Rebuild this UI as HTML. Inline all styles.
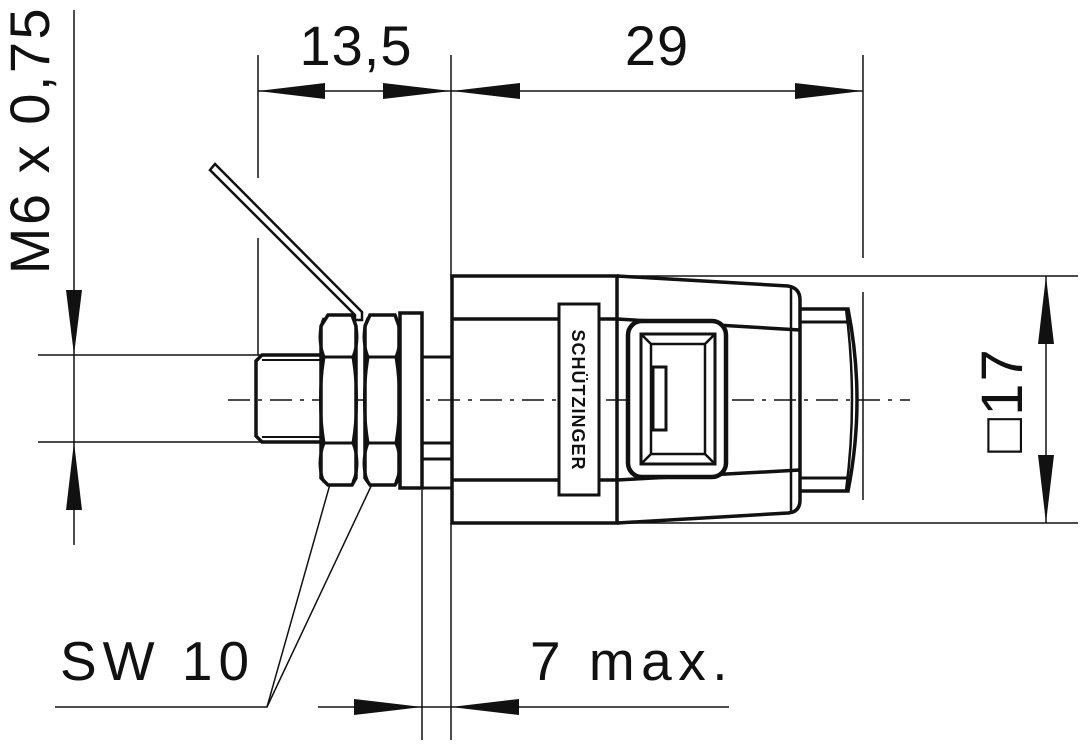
<!DOCTYPE html>
<html><head><style>
html,body{margin:0;padding:0;background:#fff;}
svg{display:block;}
text{font-family:"Liberation Sans","DejaVu Sans",sans-serif;fill:#111;}
</style></head><body>
<svg width="1084" height="744" viewBox="0 0 1084 744" xmlns="http://www.w3.org/2000/svg">
<g stroke="#111" fill="none">
<line x1="258" y1="55" x2="258" y2="178" stroke-width="1.5"/>
<line x1="258" y1="238" x2="258" y2="355" stroke-width="1.5"/>
<line x1="451" y1="55" x2="451" y2="280" stroke-width="1.5"/>
<line x1="863" y1="55" x2="863" y2="258" stroke-width="1.5"/>
<line x1="863" y1="292" x2="863" y2="500" stroke-width="1.5"/>
<line x1="258" y1="91" x2="863" y2="91" stroke-width="1.5"/>
<line x1="74" y1="10" x2="74" y2="545" stroke-width="1.5"/>
<line x1="38" y1="355" x2="262" y2="355" stroke-width="1.5"/>
<line x1="38" y1="442" x2="262" y2="442" stroke-width="1.5"/>
<line x1="452" y1="276" x2="1078" y2="276" stroke-width="1.5"/>
<line x1="452" y1="523" x2="1078" y2="523" stroke-width="1.5"/>
<line x1="1046" y1="276" x2="1046" y2="523" stroke-width="1.5"/>
<line x1="422" y1="490" x2="422" y2="740" stroke-width="1.5"/>
<line x1="451" y1="523" x2="451" y2="740" stroke-width="1.5"/>
<line x1="318" y1="707" x2="729" y2="707" stroke-width="1.5"/>
<polyline points="55,707 267,707 336,463" stroke-width="1.5"/>
<line x1="267" y1="707" x2="382" y2="463" stroke-width="1.5"/>
<line x1="228" y1="400" x2="910" y2="400" stroke-width="1.5" stroke-dasharray="22,8,4,8"/>
<polygon points="210,170 215,164 362,312 362,320 355,320 355,315" stroke-width="2.5" fill="#fff"/>
<path d="M262,355 L325,355 L325,442 L262,442 L256,436 L256,361 Z" stroke-width="3.5"/>
<line x1="262" y1="360" x2="325" y2="360" stroke-width="2"/>
<line x1="262" y1="437" x2="325" y2="437" stroke-width="2"/>
<g stroke-width="3.5" fill="#fff">
<path d="M328,315 L352,315 L356,326 L356,478 L352,485 L328,485 L321,478 L321,326 Z"/>
<path d="M370,315 L395,315 L399,326 L399,478 L395,485 L370,485 L365,478 L365,326 Z"/>
<rect x="400" y="313" width="22" height="175"/>
</g>
<g stroke-width="3">
<path d="M321,357 L356,357 M321,443 L356,443 M365,357 L399,357 M365,443 L399,443"/>
<path d="M324,357 Q317,400 324,443 M353,357 Q360,400 353,443 M368,357 Q361,400 368,443 M396,357 Q403,400 396,443"/>
<path d="M324,357 Q316,336 324,318 M353,357 Q361,336 353,318 M368,357 Q360,336 368,318 M396,357 Q404,336 396,318"/>
<path d="M324,443 Q316,464 324,482 M353,443 Q361,464 353,482 M368,443 Q360,464 368,482 M396,443 Q404,464 396,482"/>
<line x1="422" y1="357" x2="452" y2="357"/><line x1="422" y1="443" x2="452" y2="443"/>
<line x1="422" y1="459" x2="452" y2="459"/>
<line x1="422" y1="488" x2="452" y2="488"/>
</g>
<g stroke-width="3.5">
<path d="M452,276 L617,276 L617,523 L452,523 Z"/>
<path d="M617,276 L788,286 Q800,288 800,300 L800,500 Q800,512 788,513 L617,523"/>
<line x1="452" y1="319" x2="617" y2="319"/>
<line x1="452" y1="480" x2="617" y2="480"/>
<line x1="617" y1="319" x2="800" y2="330"/>
<line x1="617" y1="480" x2="800" y2="470"/>
<line x1="791" y1="288" x2="791" y2="512" stroke-width="2.5"/>
<rect x="559" y="304" width="40" height="191" stroke-width="3" fill="#fff"/>
<rect x="628" y="321" width="98" height="156" rx="14" stroke-width="4.5" fill="#fff"/>
<rect x="641" y="334" width="74" height="130" stroke-width="3"/>
<path d="M641,334 L651,344 L705,344 L715,334 M641,464 L651,454 L705,454 L715,464 M651,344 L651,454 M705,344 L705,454" stroke-width="2.5"/>
<rect x="653" y="367" width="13" height="63" stroke-width="3"/>
<path d="M800,309 L846,309 L848,309 Q866,400 848,491 L800,491" stroke-width="3.5"/>
<line x1="800" y1="322" x2="848" y2="322" stroke-width="3"/>
<line x1="800" y1="478" x2="848" y2="478" stroke-width="3"/>
<path d="M846,309 Q858,400 846,491" stroke-width="2.5"/>
</g>
</g>
<g fill="#111">
<polygon points="258,91 325,83 325,99"/>
<polygon points="451,91 383,83 383,99"/>
<polygon points="452,91 520,83 520,99"/>
<polygon points="863,91 795,83 795,99"/>
<polygon points="74,355 66,290 82,290"/>
<polygon points="74,442 66,510 82,510"/>
<polygon points="1046,276 1038,344 1054,344"/>
<polygon points="1046,523 1038,455 1054,455"/>
<polygon points="422,707 354,699 354,715"/>
<polygon points="451,707 519,699 519,715"/>
</g>
<text x="356" y="65" font-size="56" text-anchor="middle" letter-spacing="1">13,5</text>
<text x="657" y="65" font-size="56" text-anchor="middle" letter-spacing="1">29</text>
<text transform="translate(49,140) rotate(-90)" font-size="56" text-anchor="middle" letter-spacing="2.5">M6 x 0,75</text>
<text transform="translate(1022,400) rotate(-90)" font-size="58" text-anchor="middle" letter-spacing="2">□17</text>
<text x="60" y="680" font-size="55" letter-spacing="6">SW 10</text>
<text x="530" y="680" font-size="55" letter-spacing="6.5">7 max.</text>
<text transform="translate(572,400) rotate(90)" font-size="18" font-weight="bold" text-anchor="middle" letter-spacing="1">SCHÜTZINGER</text>
</svg>
</body></html>
